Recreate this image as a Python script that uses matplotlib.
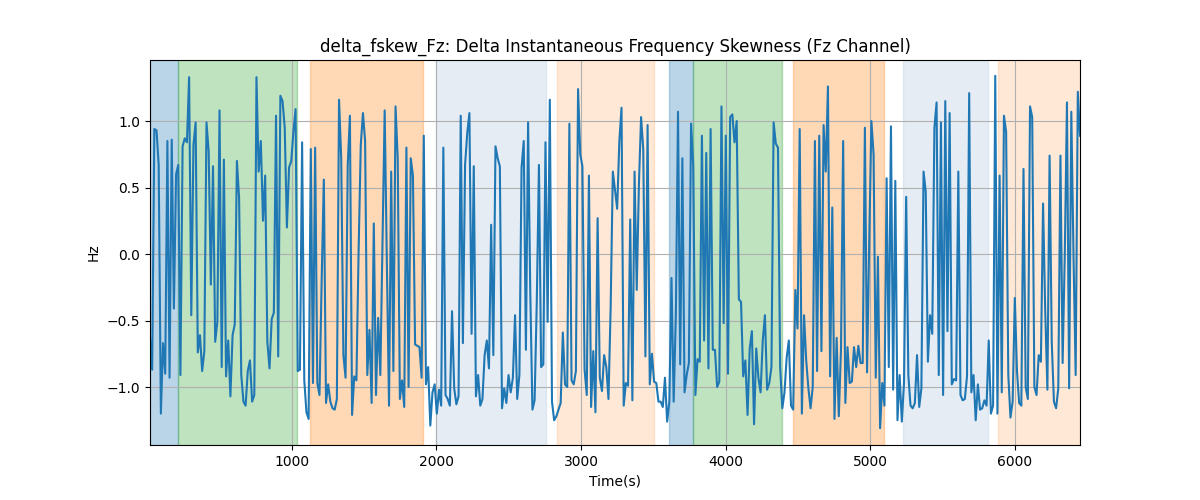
import numpy as np
import matplotlib
matplotlib.use("Agg")
import matplotlib.pyplot as plt

# time range of the record (s)
t_start = 21
t_end = 6449

# delta instantaneous frequency skewness, read left to right
fskew = [
    # ~21-640 s
    -0.63, -0.87, 0.94, 0.93, 0.67, -1.2, -0.67, -0.9, 0.85, -0.93,
    0.86, -0.41, 0.6, 0.67, -0.91, 0.81, 0.87, 0.84, 1.33, -0.46,
    0.82, 0.99, -0.74, -0.61, -0.88, -0.73, 0.99, 0.77, -0.23, 0.66,
    -0.66, -0.51, 1.08, -0.85, 0.71, -0.92, -0.65, -1.07, -0.61, -0.53,
    0.70, 0.42,
    # ~640-1280 s
    -0.91, -1.11, -1.14, -0.88, -0.8, -1.11, -1.06, 1.33, 0.62, 0.85,
    0.25, 0.59, -0.66, -0.86, -0.49, -0.44, 1.04, -0.77, 1.19, 1.15,
    0.95, 0.2, 0.65, 0.70, 0.92, 1.09, -0.88, -0.87, 0.84, -0.95,
    -1.19, -1.24, 0.79, -0.97, 0.80, -0.97, -1.06, -0.2, 0.56, -1.12,
    -0.98, -1.11, -1.16,
    # ~1280-1925 s
    -1.17, -1.09, 1.16, 0.72, -0.76, -0.93, 0.67, 1.04, -1.21, -0.92,
    -0.95, 0.02, 0.82, 1.06, 0.85, -0.91, -0.57, -1.12, 0.23, -1.06,
    -0.48, -0.91, 0.1, 1.08, -0.06, -1.14, 0.62, -0.88, 1.11, 0.72,
    -1.09, -0.95, -1.15, 0.80, -1.0, 0.72, 0.59, -0.68, -0.69, -0.70,
    -0.93, 0.89, -0.98,
    # ~1925-2570 s
    -0.85, -1.29, -1.04, -0.98, -1.2, -1.02, -1.14, 0.80, -1.06, -1.09,
    -1.14, -0.43, -1.01, -1.13, -1.07, 1.04, -0.67, 0.67, 0.91, 1.06,
    -0.6, 0.66, -1.07, -0.91, -1.14, -1.09, -0.76, -0.65, -0.86, 0.22,
    -0.76, 0.81, 0.72, 0.66, -1.16, -1.01, -1.12, -0.91, -1.04, -0.93,
    -0.46, -1.09, -0.91,
    # ~2570-3215 s
    0.65, 0.85, -0.72, 0.99, -0.28, -1.17, -1.1, -0.36, 0.67, -0.85,
    -0.83, 0.84, -0.51, 1.16, -1.11, -1.25, -1.22, -1.17, -1.12, -0.59,
    -0.98, -1.0, 0.98, -0.95, -0.98, -0.88, 1.24, 0.75, 0.66, -0.87,
    -1.06, 0.59, -1.15, -0.73, -1.19, 0.27, -0.93, -1.03, -0.76, -0.85,
    -1.09, -0.4, 0.62,
    # ~3215-3860 s
    0.48, 0.34, 0.85, 1.1, -1.14, -0.97, -0.99, 0.26, -1.1, 0.62,
    -0.27, 0.52, 1.03, 0.79, -0.77, 0.97, -0.98, -0.75, -0.96, -0.97,
    -1.11, -1.11, -1.15, -0.93, -1.26, -1.11, -0.18, -1.11, -0.46, 1.07,
    -0.83, 0.72, -1.04, -0.91, -0.82, 0.98, 0.67, -1.06, -0.79, -0.81,
    0.89, -0.65, 0.76,
    # ~3860-4505 s
    -0.86, 0.94, -0.72, -0.72, -1.0, -0.96, 1.11, -0.52, 0.89, -0.9,
    1.03, 1.05, 0.84, 1.0, -0.34, -0.36, -0.92, -0.8, -1.21, -0.71,
    -0.58, -1.28, -0.71, -0.93, -1.04, -0.65, -0.46, -1.02, -0.97, -0.85,
    0.99, 0.83, 0.8, -0.85, -1.16, -1.04, -0.78, -0.65, -1.14, -1.17,
    -0.27, -0.56, 0.94,
    # ~4505-5150 s
    -1.2, -0.46, -0.8, -1.01, -1.16, -1.0, 0.85, -0.88, 0.89, -0.73,
    0.97, 0.62, 1.26, -0.92, 0.35, -1.24, -0.63, -1.22, -0.72, 0.85,
    -1.12, -0.7, -0.97, -0.96, -0.7, -0.85, -0.69, -0.82, -0.82, 0.95,
    -0.89, 0.1, 1.0, 0.75, -0.93, -0.02, -1.31, -0.97, -1.14, 0.57,
    -0.85, 0.96, -1.02,
    # ~5150-5800 s
    0.55, -1.25, -0.91, -1.26, -0.97, 0.43, -0.91, -1.14, -1.16, -1.12,
    -0.76, -1.15, -1.01, 0.62, 0.47, -0.81, -0.46, -0.6, 0.95, 1.14,
    -0.91, 0.99, -1.06, 1.15, -0.58, 1.06, -0.98, -0.94, -0.95, 0.62,
    -1.06, -1.1, -1.09, -0.92, 1.21, -1.04, -0.91, -1.25, -0.98, -1.17,
    -1.16, -1.1, -1.14,
    # ~5800-6449 s
    -0.65, -1.2, -1.14, 1.34, -1.2, 0.59, -1.04, 1.04, 0.92, -0.91,
    -1.23, -1.11, -0.33, -0.88, -1.12, -1.14, 0.64, -1.0, -1.09, 1.11,
    1.03, -1.0, -1.06, -0.76, -0.81, 0.38, -0.43, -1.02, 0.74, -0.66,
    -1.11, -1.16, -1.01, 0.74, -0.82, 0.0, 1.14, -1.01, 1.07, 0.0,
    -0.91, 1.22, 0.89,
]

# shaded segments (s)
seg_start = [21, 214, 1129, 1995, 2837, 3607, 3773, 4465, 5225, 5880]
seg_end = [214, 1039, 1909, 2761, 3508, 3773, 4387, 5097, 5811, 6449]
seg_color = ["tab:blue", "tab:green", "tab:orange", "lightsteelblue", "tab:orange",
             "tab:blue", "tab:green", "tab:orange", "lightsteelblue", "tab:orange"]
seg_alpha = [0.3, 0.3, 0.3, 0.32, 0.17, 0.3, 0.3, 0.3, 0.32, 0.17]

time = np.linspace(t_start, t_end, len(fskew))

fig, ax = plt.subplots(figsize=(12, 5))

for s, e, c, a in zip(seg_start, seg_end, seg_color, seg_alpha):
    ax.axvspan(s, e, color=c, alpha=a)

ax.plot(time, fskew, color="tab:blue", lw=1.5)

ax.set_xlim(t_start, t_end)
ax.set_ylim(-1.436, 1.459)
plt.grid(True)
plt.title("delta_fskew_Fz: Delta Instantaneous Frequency Skewness (Fz Channel)")
plt.xlabel("Time(s)")
plt.ylabel("Hz")

fig.savefig("out.png", dpi=100)
